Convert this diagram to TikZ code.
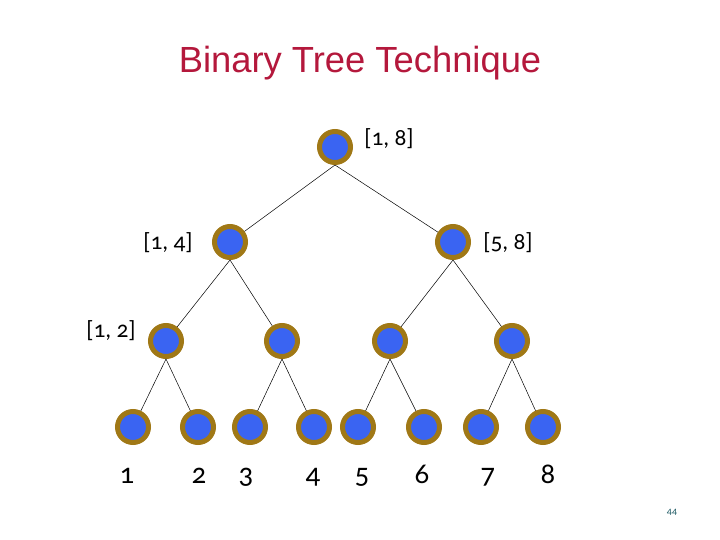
\documentclass[tikz,border=0pt]{standalone}
\usepackage{fontspec}
\setmainfont{Carlito}[Numbers=OldStyle]
\newfontfamily\titlefont{Liberation Sans}
\definecolor{titlered}{RGB}{180,24,60}
\definecolor{ringgold}{RGB}{160,120,22}
\definecolor{fillblue}{RGB}{58,100,242}
\definecolor{pagenum}{RGB}{30,90,100}
\begin{document}
\begin{tikzpicture}[x=1bp,y=-1bp,
  tnode/.style={circle,draw=ringgold,line width=5bp,fill=fillblue,minimum size=31bp,inner sep=0pt},
  edge/.style={draw=black,line width=0.5bp},
  lbl/.style={font=\fontsize{23.5}{26}\selectfont,inner sep=0pt},
  leaf/.style={font=\fontsize{29}{32}\selectfont,inner sep=0pt}]
\useasboundingbox (0,0) rectangle (720,540);
\node[font=\titlefont\fontsize{36.5}{40}\selectfont,text=titlered] (title) at (360,63) {Binary Tree Technique};
% nodes
\node[tnode] (r) at (335,147) {};
\node[tnode] (a) at (230,242) {};
\node[tnode] (b) at (453,242) {};
\node[tnode] (c1) at (166,341) {};
\node[tnode] (c2) at (282,341) {};
\node[tnode] (c3) at (390,341) {};
\node[tnode] (c4) at (512,341) {};
\node[tnode] (l1) at (133,427) {};
\node[tnode] (l2) at (198,427) {};
\node[tnode] (l3) at (250,427) {};
\node[tnode] (l4) at (314,427) {};
\node[tnode] (l5) at (358,427) {};
\node[tnode] (l6) at (424,427) {};
\node[tnode] (l7) at (481,427) {};
\node[tnode] (l8) at (543,427) {};
% edges
\foreach \p/\c in {r/a,r/b,a/c1,a/c2,b/c3,b/c4,c1/l1,c1/l2,c2/l3,c2/l4,c3/l5,c3/l6,c4/l7,c4/l8}
  \draw[edge] (\p.south) -- (\c);
% labels
\node[lbl] (t18) at (389,139) {[1, 8]};
\node[lbl] (t14) at (168,243) {[1, 4]};
\node[lbl] (t58) at (508,243) {[5, 8]};
\node[lbl] (t12) at (111,331) {[1, 2]};
\node[leaf,anchor=base] (n1) at (127,483) {1};
\node[leaf,anchor=base] (n2) at (199,483) {2};
\node[leaf,anchor=base] (n3) at (246,483) {3};
\node[leaf,anchor=base] (n4) at (313,483) {4};
\node[leaf,anchor=base] (n5) at (362,483) {5};
\node[leaf,anchor=base] (n6) at (422,483) {6};
\node[leaf,anchor=base] (n7) at (488,483) {7};
\node[leaf,anchor=base] (n8) at (548,483) {8};
\node[font=\fontsize{10}{11}\selectfont,text=pagenum] (pg) at (672,512) {44};
\end{tikzpicture}
\end{document}
